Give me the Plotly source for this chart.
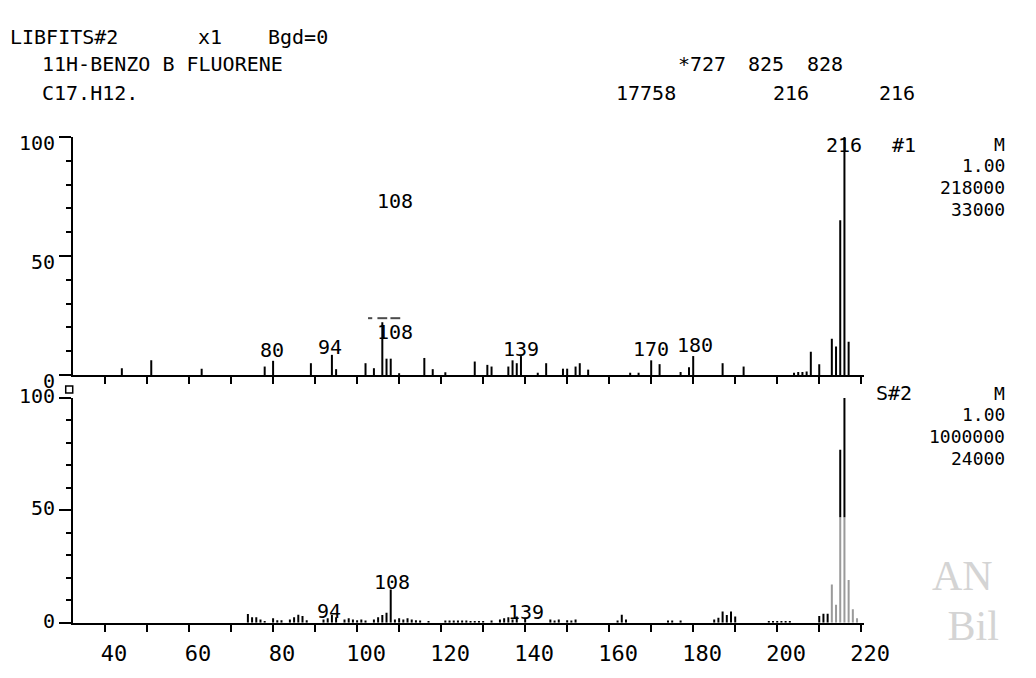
import plotly.graph_objects as go

W, H = 1036, 678

# ---------------- data ----------------
# Library spectrum (#1), relative intensity %
top_mz = [44, 51, 63, 78, 80, 89, 94, 95, 102, 104, 106, 107, 108, 110, 116, 118, 121,
          128, 131, 132, 136, 137, 138, 139, 143, 145, 149, 150, 152, 153, 155,
          165, 167, 170, 172, 177, 179, 180, 187, 192, 204, 205, 206, 207, 208, 210,
          213, 214, 215, 216, 217]
top_int = [2.9, 6.2, 2.7, 3.6, 6.0, 5.0, 8.5, 2.5, 5.0, 2.9, 22.2, 6.9, 6.9, 0.8, 7.2, 2.5, 1.2,
           5.7, 4.3, 3.6, 3.6, 6.2, 5.0, 8.0, 1.0, 5.0, 2.7, 2.7, 3.6, 5.0, 2.3,
           1.0, 1.0, 6.2, 4.6, 1.3, 3.3, 8.0, 5.0, 3.6, 1.0, 1.3, 1.3, 1.5, 9.8, 4.6,
           15.3, 12.0, 65.0, 100.0, 14.0]

# Sample spectrum (S#2), relative intensity %
bot_mz = [74, 75, 76, 77, 78, 80, 81, 82, 84, 85, 86, 87, 88, 92, 93, 94, 95, 97, 98, 99,
          100, 101, 102, 104, 105, 106, 107, 108, 109, 110, 111, 112, 113, 114, 115, 117,
          121, 122, 123, 124, 125, 126, 127, 128, 129, 130, 132, 134, 135, 136, 137, 138,
          140, 146, 147, 148, 150, 151, 152, 162, 163, 164, 174, 175, 177,
          185, 186, 187, 188, 189, 190, 198, 199, 200, 201, 202, 203,
          210, 211, 212, 213, 214, 215, 216, 217, 218, 219]
bot_int = [3.9, 2.5, 2.5, 1.5, 0.8, 2.0, 1.2, 1.2, 1.5, 2.5, 3.6, 3.0, 1.2, 1.5, 2.0, 3.5, 2.5, 1.5, 2.0, 1.5,
           1.2, 1.5, 1.0, 1.5, 2.5, 3.5, 4.5, 14.8, 1.5, 2.0, 1.5, 2.0, 1.5, 1.2, 1.0, 0.8,
           1.0, 1.0, 1.0, 1.0, 1.0, 1.0, 0.8, 0.8, 0.8, 0.8, 1.0, 1.5, 2.0, 2.5, 1.5, 2.8,
           2.0, 1.5, 1.0, 1.5, 1.2, 1.0, 1.5, 1.0, 3.6, 1.5, 1.0, 1.0, 1.0,
           1.5, 2.3, 5.0, 3.5, 5.0, 2.8, 0.8, 0.8, 0.8, 0.8, 0.8, 0.8,
           3.0, 4.0, 4.0, 17.0, 8.0, 77.0, 100.0, 19.0, 6.0, 2.0]

# peak labels (text, m/z position, height %)
top_labels = ["80", "94", "108", "139", "170", "180", "216", "108"]
top_label_mz = [79.7, 93.6, 109.0, 139.0, 170.0, 180.4, 215.9, 109.0]
top_label_int = [10.4, 12.0, 18.2, 11.0, 10.8, 12.8, 96.8, 73.0]

bot_labels = ["94", "108", "139", "216"]
bot_label_mz = [93.4, 108.3, 140.1, 216.0]
bot_label_int = [5.3, 18.0, 4.8, 101.5]

# small dash marks above the 106-108 cluster in the library spectrum
top_mark_mz = [103.1, 106.0, 109.1]
top_mark_int = [23.9, 23.9, 23.9]
top_mark_size = [3, 7, 7]

x_ticks = [40, 50, 60, 70, 80, 90, 100, 110, 120, 130, 140, 150, 160, 170, 180, 190, 200, 210, 220]
x_ticktext = ["40", "", "60", "", "80", "", "100", "", "120", "", "140", "", "160", "", "180", "",
              "200", "", "220"]
y_ticks = [0, 50, 100]
y_ticktext = ["0", "50", "100"]
y_minor = [0, 10, 20, 30, 40, 50, 60, 70, 80, 90, 100]

WATERMARK_LEVEL = 47  # below this the sample's molecular-ion cluster prints grey
GREY_FROM_MZ = 213

FONT = "DejaVu Sans Mono"


def sticks(mz, inten, lo=None, hi=None, sel=None):
    xs, ys = [], []
    for m, h in zip(mz, inten):
        if sel is not None and not sel(m):
            continue
        a = 0 if lo is None else lo
        b = h if hi is None else min(h, hi)
        if b <= a:
            continue
        xs += [m, m, None]
        ys += [a, b, None]
    return xs, ys


fig = go.Figure()

# faint watermark letters + small box, on a transparent full-page pixel overlay
wm_text = ["AN", "Bil"]
wm_x = [956, 972]
wm_y = [594, 646]
fig.add_trace(go.Scatter(x=wm_x, y=wm_y, mode="text", text=wm_text, textposition="middle right",
                         textfont=dict(family="Liberation Serif", size=42, color="#d4d4d4"),
                         xaxis="x3", yaxis="y3", hoverinfo="skip", showlegend=False,
                         cliponaxis=False))
fig.add_trace(go.Scatter(x=[71], y=[394], mode="markers",
                         marker=dict(symbol="square-open", size=7, color="black",
                                     line=dict(color="black", width=1.5)),
                         xaxis="x3", yaxis="y3", hoverinfo="skip", showlegend=False,
                         cliponaxis=False))

tx, ty = sticks(top_mz, top_int)
fig.add_trace(go.Scatter(x=tx, y=ty, mode="lines", line=dict(color="black", width=2),
                         xaxis="x", yaxis="y", hoverinfo="skip", showlegend=False))

bx, by = sticks(bot_mz, bot_int, sel=lambda m: m < GREY_FROM_MZ)
fig.add_trace(go.Scatter(x=bx, y=by, mode="lines", line=dict(color="black", width=2),
                         xaxis="x2", yaxis="y2", hoverinfo="skip", showlegend=False))
gx, gy = sticks(bot_mz, bot_int, hi=WATERMARK_LEVEL, sel=lambda m: m >= GREY_FROM_MZ)
fig.add_trace(go.Scatter(x=gx, y=gy, mode="lines", line=dict(color="#9a9a9a", width=2),
                         xaxis="x2", yaxis="y2", hoverinfo="skip", showlegend=False))
kx, ky = sticks(bot_mz, bot_int, lo=WATERMARK_LEVEL, sel=lambda m: m >= GREY_FROM_MZ)
fig.add_trace(go.Scatter(x=kx, y=ky, mode="lines", line=dict(color="black", width=2),
                         xaxis="x2", yaxis="y2", hoverinfo="skip", showlegend=False))

fig.add_trace(go.Scatter(x=top_mark_mz, y=top_mark_int, mode="markers",
                         marker=dict(symbol="line-ew", size=top_mark_size, color="black",
                                     line=dict(color="black", width=2)),
                         xaxis="x", yaxis="y", hoverinfo="skip", showlegend=False))

annotations = []
for t, m, v in zip(top_labels, top_label_mz, top_label_int):
    annotations.append(dict(x=m, y=v, xref="x", yref="y", text=t, showarrow=False,
                            font=dict(family=FONT, size=20, color="black"),
                            xanchor="center", yanchor="middle"))
for t, m, v in zip(bot_labels, bot_label_mz, bot_label_int):
    annotations.append(dict(x=m, y=v, xref="x2", yref="y2", text=t, showarrow=False,
                            font=dict(family=FONT, size=20, color="black"),
                            xanchor="center", yanchor="middle"))


def ptxt(text, px, py, anchor="left", size=20, color="black", family=FONT):
    annotations.append(dict(x=px / W, y=1 - py / H, xref="paper", yref="paper", text=text,
                            showarrow=False, xanchor=anchor, yanchor="middle",
                            font=dict(family=family, size=size, color=color)))


# header
ptxt("LIBFITS#2", 8, 24)
ptxt("x1", 201, 24)
ptxt("Bgd=0", 273, 24)
ptxt("11H-BENZO B FLUORENE", 41, 53)
ptxt("C17.H12.", 41, 83)
ptxt("*727", 693, 53)
ptxt("825", 765, 53)
ptxt("828", 826, 53)
ptxt("17758", 630, 83)
ptxt("216", 791, 83)
ptxt("216", 900, 83)

# right-hand info columns
ptxt("#1", 913, 137)
for txt, py in zip(["M", "1.00", "218000", "33000"], [137, 159, 182, 205]):
    ptxt(txt, 1033, py, anchor="right", size=18)
ptxt("S#2", 897, 398)
for txt, py in zip(["M", "1.00", "1000000", "24000"], [398, 420, 443, 466]):
    ptxt(txt, 1033, py, anchor="right", size=18)

x_dom = [75 / W, 886 / W]
x_rng = [32.4, 220.6]

axis_common = dict(showline=True, linecolor="black", linewidth=2, showgrid=False,
                   zeroline=False, ticks="outside", tickcolor="black", tickwidth=2,
                   fixedrange=True)

fig.update_layout(
    width=W, height=H, autosize=False,
    margin=dict(l=0, r=0, t=0, b=0, pad=0),
    paper_bgcolor="white", plot_bgcolor="rgba(0,0,0,0)",
    font=dict(family=FONT, color="black"),
    xaxis=dict(domain=x_dom, range=x_rng, anchor="y", tickvals=x_ticks, ticklen=7,
               showticklabels=False, **axis_common),
    xaxis2=dict(domain=x_dom, range=x_rng, anchor="y2", tickvals=x_ticks, ticktext=x_ticktext,
                ticklen=7, tickfont=dict(family=FONT, size=22), ticklabelshift=9,
                ticklabelstandoff=3, **axis_common),
    xaxis3=dict(domain=[0, 1], range=[0, W], anchor="y3", visible=False, fixedrange=True),
    yaxis=dict(domain=[1 - 379 / H, 1 - 129 / H], range=[0, 100], anchor="x",
               tickvals=y_ticks, ticktext=y_ticktext, ticklen=12,
               tickfont=dict(family=FONT, size=20), ticklabelshift=6,
               minor=dict(ticks="outside", tickvals=y_minor, ticklen=5, tickwidth=2,
                          tickcolor="black", showgrid=False),
               **axis_common),
    yaxis2=dict(domain=[1 - 639 / H, 1 - 403 / H], range=[0, 100], anchor="x2",
                tickvals=y_ticks, ticktext=y_ticktext, ticklen=12,
                tickfont=dict(family=FONT, size=20), ticklabelshift=-2,
                minor=dict(ticks="outside", tickvals=y_minor, ticklen=5, tickwidth=2,
                           tickcolor="black", showgrid=False),
                **axis_common),
    yaxis3=dict(domain=[0, 1], range=[H, 0], anchor="x3", visible=False, fixedrange=True),
    annotations=annotations,
)

POST = (
    "document.body.style.margin='0';"
    "document.body.style.overflow='hidden';"
)

fig.write_html("out.html", config={"displayModeBar": False}, post_script=POST)
